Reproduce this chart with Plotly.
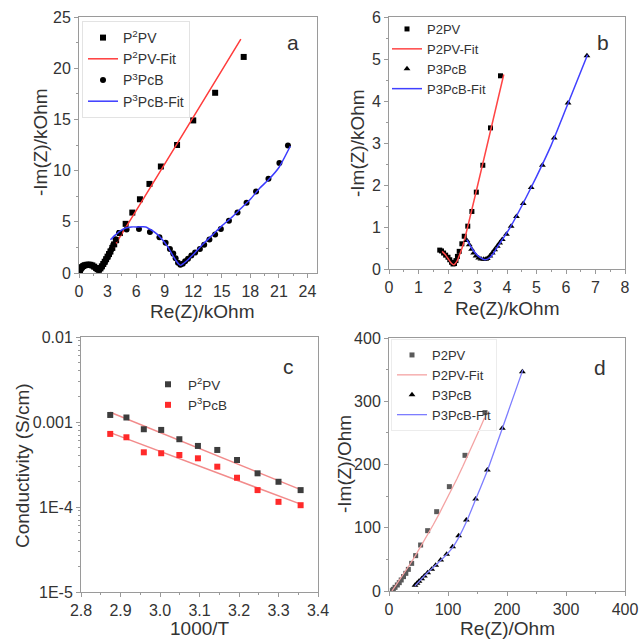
import plotly.graph_objects as go

# ---------------- data ----------------
# Panel a
a_p2pv_x = [0.05, 0.1, 0.2, 0.3, 0.45, 0.6, 0.8, 1.0, 1.2, 1.4, 1.6, 1.8, 1.95, 2.1, 2.25, 2.4, 2.55, 2.7,
            2.85, 3.0, 3.15, 3.3, 3.5, 3.7, 3.9, 4.3, 4.9, 5.6, 6.4, 7.4, 8.6, 10.3, 12.0, 14.3, 17.3]
a_p2pv_y = [0.15, 0.3, 0.45, 0.57, 0.68, 0.76, 0.8, 0.82, 0.8, 0.74, 0.62, 0.48, 0.37, 0.32, 0.45, 0.65, 0.88, 1.1,
            1.35, 1.6, 1.85, 2.1, 2.45, 2.8, 3.2, 3.9, 4.8, 5.9, 7.2, 8.7, 10.4, 12.5, 14.9, 17.6, 21.1]
a_p2pv_fit_x = [0.0, 0.1, 0.3, 0.6, 1.0, 1.4, 1.8, 2.05, 2.2, 17.0]
a_p2pv_fit_y = [0.0, 0.3, 0.58, 0.77, 0.82, 0.74, 0.48, 0.32, 0.45, 22.85]
a_p3pcb_x = [0.05, 0.1, 0.2, 0.3, 0.45, 0.6, 0.8, 1.0, 1.2, 1.4, 1.6, 1.8, 1.95, 2.1, 2.25, 2.4, 2.55, 2.7, 2.85,
             3.0, 3.2, 3.4, 3.6, 3.85, 4.2, 5.0, 6.3, 7.45, 8.45, 9.1, 9.55, 9.9, 10.15, 10.4, 10.65, 10.9, 11.15,
             11.45, 11.8, 12.2, 12.7, 13.15, 13.7, 14.3, 14.9, 15.75, 16.65, 17.6, 18.6, 19.9, 21.05, 21.95]
a_p3pcb_y = [0.12, 0.28, 0.43, 0.55, 0.66, 0.74, 0.79, 0.8, 0.78, 0.72, 0.6, 0.46, 0.36, 0.3, 0.45, 0.62, 0.82,
             1.05, 1.3, 1.55, 1.9, 2.3, 2.75, 3.3, 3.9, 4.25, 4.3, 4.0, 3.5, 2.95, 2.35, 1.9, 1.45, 1.0, 0.8, 0.9,
             1.14, 1.4, 1.7, 2.0, 2.35, 2.77, 3.26, 3.75, 4.3, 5.1, 5.9, 6.85, 7.95, 9.2, 10.75, 12.45]
a_p3pcb_fit_x = [3.3, 3.8, 4.3, 4.9, 5.5, 6.2, 7.0, 7.6, 8.2, 8.8, 9.3, 9.8, 10.2, 10.5, 10.7, 11.0, 11.5, 12.0,
                 13.0, 14.0, 15.0, 16.0, 17.0, 18.0, 19.0, 20.0, 21.0, 22.2]
a_p3pcb_fit_y = [3.25, 3.7, 4.1, 4.4, 4.5, 4.5, 4.5, 4.2, 3.8, 3.2, 2.6, 1.8, 1.2, 0.85, 0.75, 0.95, 1.35, 1.8,
                 2.8, 3.7, 4.6, 5.4, 6.3, 7.2, 8.3, 9.2, 10.3, 12.4]

# Panel b
b_p2pv_x = [1.72, 1.78, 1.85, 1.92, 2.0, 2.06, 2.12, 2.17, 2.22, 2.27, 2.32, 2.38, 2.47, 2.55, 2.67, 2.81, 2.96,
            3.18, 3.44, 3.78]
b_p2pv_y = [0.45, 0.43, 0.38, 0.33, 0.28, 0.22, 0.16, 0.12, 0.13, 0.2, 0.3, 0.42, 0.6, 0.78, 1.02, 1.37, 1.83,
            2.47, 3.36, 4.6]
b_p2pv_fit_x = [1.8, 1.9, 2.0, 2.1, 2.2, 2.3, 2.4, 2.53, 3.89]
b_p2pv_fit_y = [0.42, 0.35, 0.25, 0.15, 0.1, 0.18, 0.35, 0.62, 4.63]
b_p3pcb_x = [2.64, 2.72, 2.8, 2.87, 2.95, 3.04, 3.12, 3.21, 3.28, 3.33, 3.42, 3.5, 3.58, 3.67, 3.75, 3.84, 3.98,
             4.14, 4.32, 4.55, 4.82, 5.2, 5.6, 6.07, 6.71]
b_p3pcb_y = [0.68, 0.58, 0.47, 0.38, 0.31, 0.26, 0.24, 0.23, 0.23, 0.25, 0.31, 0.38, 0.46, 0.54, 0.62, 0.7, 0.83,
             1.02, 1.25, 1.56, 1.94, 2.47, 3.12, 3.95, 5.08]
b_p3pcb_fit_x = [2.64, 2.8, 2.95, 3.1, 3.25, 3.4, 3.55, 3.7, 3.85, 4.1, 4.5, 5.0, 5.5, 6.0, 6.73]
b_p3pcb_fit_y = [0.7, 0.5, 0.36, 0.27, 0.22, 0.26, 0.38, 0.55, 0.71, 0.98, 1.5, 2.2, 2.95, 3.82, 5.1]

# Panel c
c_x = [2.874, 2.915, 2.959, 3.003, 3.049, 3.096, 3.145, 3.195, 3.247, 3.300, 3.356]
c_p2pv = [0.00121, 0.00113, 0.000822, 0.000807, 0.000627, 0.000523, 0.000469, 0.000357, 0.000249, 0.000198,
          0.000158]
c_p3pcb = [0.000724, 0.000661, 0.000440, 0.000429, 0.000409, 0.000374, 0.000298, 0.000221, 0.000158, 0.000115,
           0.000105]
c_fit_x = [2.874, 3.356]
c_p2pv_fit = [0.00130, 0.000160]
c_p3pcb_fit = [0.000750, 0.000108]

# Panel d
d_p2pv_x = [5.7, 7.3, 10.2, 14.1, 17.4, 20.7, 24.6, 28.5, 32.8, 38.4, 45.2, 53.6, 65.5, 80.8, 102.3, 128.8, 162.7]
d_p2pv_y = [0.5, 2.6, 5.8, 9.5, 13.2, 17.4, 22.7, 27.9, 34.2, 43.7, 55.9, 72.7, 95.4, 125.4, 165.0, 214.5, 282.0]
d_p2pv_fit_x = [5, 15, 25, 35, 45, 55, 65, 75, 85, 95, 105, 115, 125, 135, 145, 155, 162]
d_p2pv_fit_y = [0, 13.2, 27.1, 41.5, 56.4, 72.0, 88.1, 104.7, 122.0, 139.8, 158.2, 177.2, 196.7, 216.8, 237.5,
                258.8, 274.0]
d_p3pcb_x = [44.1, 47.5, 50.8, 55.4, 59.9, 65.5, 72.3, 79.1, 87.6, 97.7, 107.9, 118.1, 131.1, 146.9, 166.7,
             192.1, 226.0]
d_p3pcb_y = [9.0, 12.1, 15.3, 19.5, 23.7, 29.0, 34.3, 40.6, 49.0, 58.0, 70.1, 87.4, 112.3, 145.5, 191.3, 257.2,
             346.8]
d_p3pcb_fit_x = [44, 48, 52, 57, 63, 70, 78, 87, 97, 108, 119, 132, 147, 167, 192, 227]
d_p3pcb_fit_y = [8, 12, 16, 21, 27, 33, 40, 48, 57, 69, 86, 111, 145, 191, 257, 350]

# ---------------- figure ----------------
W, H = 642, 641
FONT = "Liberation Sans, Arial, sans-serif"


def fx(p):
    return p / W


def fy(p):
    return 1 - p / H


fig = go.Figure()

# Panel a
fig.add_trace(go.Scatter(x=a_p2pv_x, y=a_p2pv_y, mode="markers", name="P<sup>2</sup>PV",
                         marker=dict(symbol="square", size=6, color="black"), xaxis="x", yaxis="y", legend="legend"))
fig.add_trace(go.Scatter(x=a_p2pv_fit_x, y=a_p2pv_fit_y, mode="lines", name="P<sup>2</sup>PV-Fit",
                         line=dict(color="#ff3b3b", width=1.5, shape="spline", smoothing=0.6),
                         xaxis="x", yaxis="y", legend="legend"))
fig.add_trace(go.Scatter(x=a_p3pcb_x, y=a_p3pcb_y, mode="markers", name="P<sup>3</sup>PcB",
                         marker=dict(symbol="circle", size=6, color="black"), xaxis="x", yaxis="y", legend="legend"))
fig.add_trace(go.Scatter(x=a_p3pcb_fit_x, y=a_p3pcb_fit_y, mode="lines", name="P<sup>3</sup>PcB-Fit",
                         line=dict(color="#3b3bff", width=1.5, shape="spline", smoothing=0.6),
                         xaxis="x", yaxis="y", legend="legend"))

# Panel b
fig.add_trace(go.Scatter(x=b_p2pv_x, y=b_p2pv_y, mode="markers", name="P2PV",
                         marker=dict(symbol="square", size=5, color="black"), xaxis="x2", yaxis="y2",
                         legend="legend2"))
fig.add_trace(go.Scatter(x=b_p2pv_fit_x, y=b_p2pv_fit_y, mode="lines", name="P2PV-Fit",
                         line=dict(color="#ff4545", width=1.5, shape="spline", smoothing=0.5),
                         xaxis="x2", yaxis="y2", legend="legend2"))
fig.add_trace(go.Scatter(x=b_p3pcb_x, y=b_p3pcb_y, mode="markers", name="P3PcB",
                         marker=dict(symbol="triangle-up", size=6, color="black"), xaxis="x2", yaxis="y2",
                         legend="legend2"))
fig.add_trace(go.Scatter(x=b_p3pcb_fit_x, y=b_p3pcb_fit_y, mode="lines", name="P3PcB-Fit",
                         line=dict(color="#4040ff", width=1.5, shape="spline", smoothing=0.5),
                         xaxis="x2", yaxis="y2", legend="legend2"))

# Panel c
fig.add_trace(go.Scatter(x=c_fit_x, y=c_p2pv_fit, mode="lines", showlegend=False,
                         line=dict(color="#f28b8b", width=1.5), xaxis="x3", yaxis="y3"))
fig.add_trace(go.Scatter(x=c_fit_x, y=c_p3pcb_fit, mode="lines", showlegend=False,
                         line=dict(color="#f28b8b", width=1.5), xaxis="x3", yaxis="y3"))
fig.add_trace(go.Scatter(x=c_x, y=c_p2pv, mode="markers", name="P<sup>2</sup>PV",
                         marker=dict(symbol="square", size=6, color="#3d3d3d"), xaxis="x3", yaxis="y3",
                         legend="legend3"))
fig.add_trace(go.Scatter(x=c_x, y=c_p3pcb, mode="markers", name="P<sup>3</sup>PcB",
                         marker=dict(symbol="square", size=6, color="#ff2a2a"), xaxis="x3", yaxis="y3",
                         legend="legend3"))

# Panel d
fig.add_trace(go.Scatter(x=d_p2pv_x, y=d_p2pv_y, mode="markers", name="P2PV",
                         marker=dict(symbol="square", size=5, color="#5a5a5a"), xaxis="x4", yaxis="y4",
                         legend="legend4"))
fig.add_trace(go.Scatter(x=d_p2pv_fit_x, y=d_p2pv_fit_y, mode="lines", name="P2PV-Fit",
                         line=dict(color="#f4a3a3", width=1.3), xaxis="x4", yaxis="y4", legend="legend4"))
fig.add_trace(go.Scatter(x=d_p3pcb_x, y=d_p3pcb_y, mode="markers", name="P3PcB",
                         marker=dict(symbol="triangle-up", size=6, color="black"), xaxis="x4", yaxis="y4",
                         legend="legend4"))
fig.add_trace(go.Scatter(x=d_p3pcb_fit_x, y=d_p3pcb_fit_y, mode="lines", name="P3PcB-Fit",
                         line=dict(color="#7d7dff", width=1.3, shape="spline", smoothing=0.5),
                         xaxis="x4", yaxis="y4", legend="legend4"))

AX = dict(showline=True, linecolor="#9a9a9a", linewidth=1, mirror=True, ticks="outside", ticklen=4,
          tickcolor="#9a9a9a", showgrid=False, zeroline=False, automargin=False,
          tickfont=dict(family=FONT, size=16, color="#333333"))


def ax(**kw):
    d = dict(AX)
    d.update(kw)
    return d


layout = dict(
    width=W, height=H, paper_bgcolor="white", plot_bgcolor="white",
    margin=dict(l=0, r=0, t=0, b=0),
    font=dict(family=FONT, color="#333333"),
    xaxis=ax(domain=[fx(79), fx(317)], range=[0, 25], dtick=3, anchor="y",
             minor=dict(ticks="outside", ticklen=2, dtick=1.5, tickcolor="#9a9a9a")),
    yaxis=ax(domain=[fy(273), fy(17)], range=[0, 25], dtick=5, anchor="x",
             minor=dict(ticks="outside", ticklen=2, dtick=2.5, tickcolor="#9a9a9a")),
    xaxis2=ax(domain=[fx(389), fx(625)], range=[0, 8], dtick=1, anchor="y2",
              minor=dict(ticks="outside", ticklen=2, dtick=0.5, tickcolor="#9a9a9a")),
    yaxis2=ax(domain=[fy(269), fy(17)], range=[0, 6], dtick=1, anchor="x2",
              minor=dict(ticks="outside", ticklen=2, dtick=0.5, tickcolor="#9a9a9a")),
    xaxis3=ax(domain=[fx(81), fx(318)], range=[2.8, 3.4], dtick=0.1, tickformat=".1f", anchor="y3",
              minor=dict(ticks="outside", ticklen=2, dtick=0.05, tickcolor="#9a9a9a")),
    yaxis3=ax(domain=[fy(592), fy(337)], type="log", range=[-5, -2], anchor="x3",
              tickmode="array", tickvals=[1e-5, 1e-4, 1e-3, 1e-2], ticktext=["1E-5", "1E-4", "0.001", "0.01"],
              minor=dict(ticks="outside", ticklen=2, tickcolor="#9a9a9a", tickmode="array",
                         tickvals=[m * 10 ** e for e in (-5, -4, -3) for m in range(2, 10)])),
    xaxis4=ax(domain=[fx(389), fx(625)], range=[0, 400], dtick=100, anchor="y4",
              minor=dict(ticks="outside", ticklen=2, dtick=50, tickcolor="#9a9a9a")),
    yaxis4=ax(domain=[fy(591), fy(338)], range=[0, 400], dtick=100, anchor="x4",
              minor=dict(ticks="outside", ticklen=2, dtick=50, tickcolor="#9a9a9a")),
    legend=dict(x=fx(82), y=fy(21), xanchor="left", yanchor="top", bgcolor="rgba(255,255,255,0)",
                bordercolor="#e3e3e3", borderwidth=1, font=dict(family=FONT, size=14, color="#333333"),
                itemwidth=30, tracegroupgap=0),
    legend2=dict(x=fx(387), y=fy(14), xanchor="left", yanchor="top", bgcolor="rgba(255,255,255,0)",
                 borderwidth=0, font=dict(family=FONT, size=13, color="#333333"), itemwidth=30),
    legend3=dict(x=fx(148), y=fy(369), xanchor="left", yanchor="top", bgcolor="rgba(255,255,255,0)",
                 borderwidth=0, font=dict(family=FONT, size=13.5, color="#333333"), itemwidth=30),
    legend4=dict(x=fx(391), y=fy(339), xanchor="left", yanchor="top", bgcolor="rgba(255,255,255,0)",
                 bordercolor="#ececec", borderwidth=1, font=dict(family=FONT, size=13, color="#333333"),
                 itemwidth=30),
)
fig.update_layout(**layout)

TITLE_FONT = dict(family=FONT, size=19, color="#333333")
annotations = [
    dict(text="Re(Z)/kOhm", x=fx(202), y=fy(311)),
    dict(text="-Im(Z)/kOhm", x=fx(41), y=fy(142), textangle=-90),
    dict(text="Re(Z)/kOhm", x=fx(507), y=fy(308)),
    dict(text="-Im(Z)/kOhm", x=fx(358), y=fy(143), textangle=-90),
    dict(text="1000/T", x=fx(200), y=0, yanchor="bottom"),
    dict(text="Conductivity (S/cm)", x=fx(22), y=fy(466), textangle=-90),
    dict(text="Re(Z)/Ohm", x=fx(507), y=0, yanchor="bottom"),
    dict(text="-Im(Z)/Ohm", x=fx(344), y=fy(464), textangle=-90),
]
for a in annotations:
    a.setdefault("yanchor", "middle")
    a.update(xref="paper", yref="paper", showarrow=False, xanchor="center", font=TITLE_FONT)
labels = [("a", 293, 43), ("b", 603, 43), ("c", 288, 366), ("d", 600, 367)]
for t, x, y in labels:
    annotations.append(dict(text=t, x=fx(x), y=fy(y), xref="paper", yref="paper", showarrow=False,
                            xanchor="center", yanchor="middle", font=dict(family=FONT, size=21, color="#333333")))
fig.update_layout(annotations=annotations)

fig.write_html("out.html", config={"displayModeBar": False},
               post_script="document.body.style.margin='0';")
